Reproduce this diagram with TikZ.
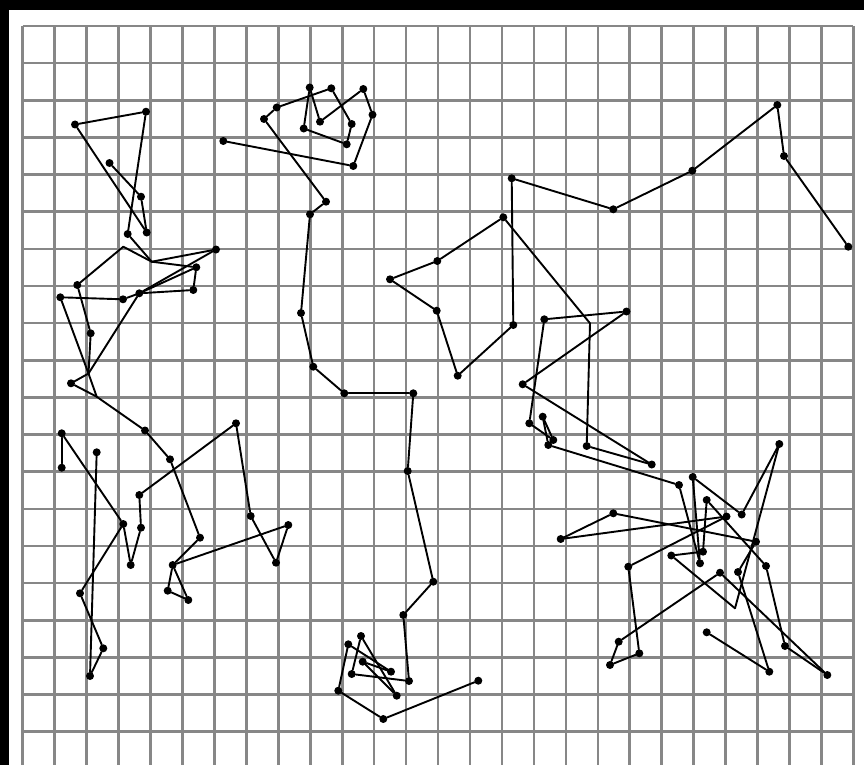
\documentclass[tikz,border=0pt]{standalone}
\definecolor{gridgray}{RGB}{135,135,135}
\tikzset{
  gridline/.style={draw=gridgray, line width=2.6pt},
  walk/.style={draw=black, line width=1.9pt, line cap=round, line join=round},
  dot/.style={circle, fill=black, inner sep=0pt, minimum size=8pt}
}
\begin{document}
\begin{tikzpicture}[x=1pt,y=-1pt]
\useasboundingbox (0,0) rectangle (864,765);
\fill[white] (0,0) rectangle (864,765);
% grid
\foreach \i in {0,...,26}{\draw[gridline] ({22.7+31.95*\i},26) -- ({22.7+31.95*\i},765);}
\foreach \j in {0,...,19}{\draw[gridline] (22.7,{26+37.14*\j}) -- (853.4,{26+37.14*\j});}
% frame
\fill[black] (0,0) rectangle (864,10);
\fill[black] (0,0) rectangle (9,765);
% ---------- track 1 (left) ----------
\foreach \n/\x/\y in {a/75/124.5, b/146/111.7, c/109.5/163, d/141/196.7, e/146.7/232.5,
  f/127.7/234, g/216/249.5, h/196.3/267.3, i/193.3/290, j/139.3/293.3, k/123/299.3,
  l/77.3/285, m/60.3/297.3, n/90.7/333.3, o/71/383.3, p/145/430.5, q/61.7/433.3,
  r/61.7/467.7, s/170/459.3, t/200/537.7, u/172.7/565, v/167.7/590.7, w/188.3/600,
  x/288.3/525, y/276/562.7, z/250.7/516, A/236/423.3, B/139.3/495, C/141/527.7,
  D/130.7/565, E/123.3/524, F/80/593.3, G/103.3/648.3, H/90/676, I/96.7/452.3}
  {\node[dot] (\n) at (\x,\y) {};}
\coordinate (X1) at (151.7,261.7);
\coordinate (X2) at (123.3,246.7);
\coordinate (X3) at (88.5,373.5);
\coordinate (X4) at (96.7,396.7);
\foreach \u/\v in {a/b, b/f, a/e, c/d, d/e, f/X1, l/X2, X2/X1, X1/g, X1/h, g/j, h/j,
  h/i, i/j, j/k, k/m, l/n, m/X3, X3/X4, n/X3, j/X3, X3/o, o/X4, X4/p, p/s, s/t, t/u,
  u/v, v/w, w/u, u/x, x/y, y/z, z/A, A/B, B/C, C/D, D/E, E/q, q/r, E/F, F/G, G/H, H/I}
  {\draw[walk] (\u) -- (\v);}
% ---------- track 2 (middle) ----------
\foreach \n/\x/\y in {M1/223.3/141, M2/353.3/166, M3/372.5/114.7, M4/363.3/89,
  M5/331.3/88.3, M6/309.7/87.5, M7/276.7/107.5, M8/264/119, M9/320/121.7,
  M10/351.7/124, M11/303.7/128.5, M12/346.7/144.3, M13/326/201.7, M14/310/214.3,
  M15/301/313, M16/313.3/366.7, M17/344.3/393.3, M18/413.3/393.3, M19/407.7/471,
  M20/433.3/581.7, M21/403.3/615, M22/409/681, M23/351.7/674, M24/361/636,
  M25/396.7/695.7, M26/362.7/661.7, M27/391/671.7, M28/348.3/644.3,
  M29/338.3/690.7, M30/383.3/719, M31/478.3/680.7}
  {\node[dot] (\n) at (\x,\y) {};}
\foreach \u/\v in {M1/M2, M2/M3, M3/M4, M4/M9, M9/M6, M6/M11, M11/M12, M12/M10,
  M10/M5, M5/M7, M7/M8, M8/M13, M13/M14, M14/M15, M15/M16, M16/M17, M17/M18,
  M18/M19, M19/M20, M20/M21, M21/M22, M22/M23, M23/M24, M24/M25, M25/M26,
  M26/M27, M27/M28, M28/M29, M29/M30, M30/M31}
  {\draw[walk] (\u) -- (\v);}
% ---------- track 3 (right) ----------
\foreach \n/\x/\y in {T1/848.3/246.7, T2/784/156, T3/777.3/105, T4/692.3/170.7,
  T5/613.3/209.3, T6/511.7/178.3, T7/513.3/325, T8/457.7/375.7, T9/436.7/310.7,
  T10/390/279.3, T11/437.3/261, T12/503.3/217.3, T13/586.7/446, T14/651.7/464.5,
  T15/522.7/384.3, T16/626.5/311.5, T17/544.3/319.3, T18/529.3/423.3,
  T19/553.3/440, T20/542.7/416.7, T21/548.3/445,
  R1/679/485, R2/692.7/477, R3/706.7/500, R4/741.7/514.5, R5/726.5/516.5,
  R6/779.3/444, R7/613.3/513.3, R8/560.7/539, R9/756/541.7, R10/703/551.7,
  R11/700/563.3, R12/671.3/555.5, R13/628.3/566.7, R14/720/572.7, R15/738/572,
  R16/766/566, R18/706.7/632.3, R19/769.3/671.7, R20/785/646, R21/827.3/675,
  R22/618.7/641.7, R23/639.3/653.3, R24/610/665}
  {\node[dot] (\n) at (\x,\y) {};}
\coordinate (V) at (590,323.3);
\coordinate (R17) at (735,608.3);
\foreach \u/\v in {T1/T2, T2/T3, T3/T4, T4/T5, T5/T6, T6/T7, T7/T8, T8/T9, T9/T10,
  T10/T11, T11/T12, T12/V, V/T13, T13/T14, T14/T15, T15/T16, T16/T17, T17/T18,
  T18/T19, T19/T20, T20/T21, T21/R1, R1/R11, R11/R2, R2/R4, R4/R6, R6/R17,
  R17/R12, R12/R10, R10/R3, R3/R16, R16/R20, R20/R21, R21/R14, R14/R22,
  R22/R24, R24/R23, R23/R13, R13/R5, R5/R8, R8/R7, R7/R9, R9/R15, R15/R19, R19/R18}
  {\draw[walk] (\u) -- (\v);}
\end{tikzpicture}
\end{document}
